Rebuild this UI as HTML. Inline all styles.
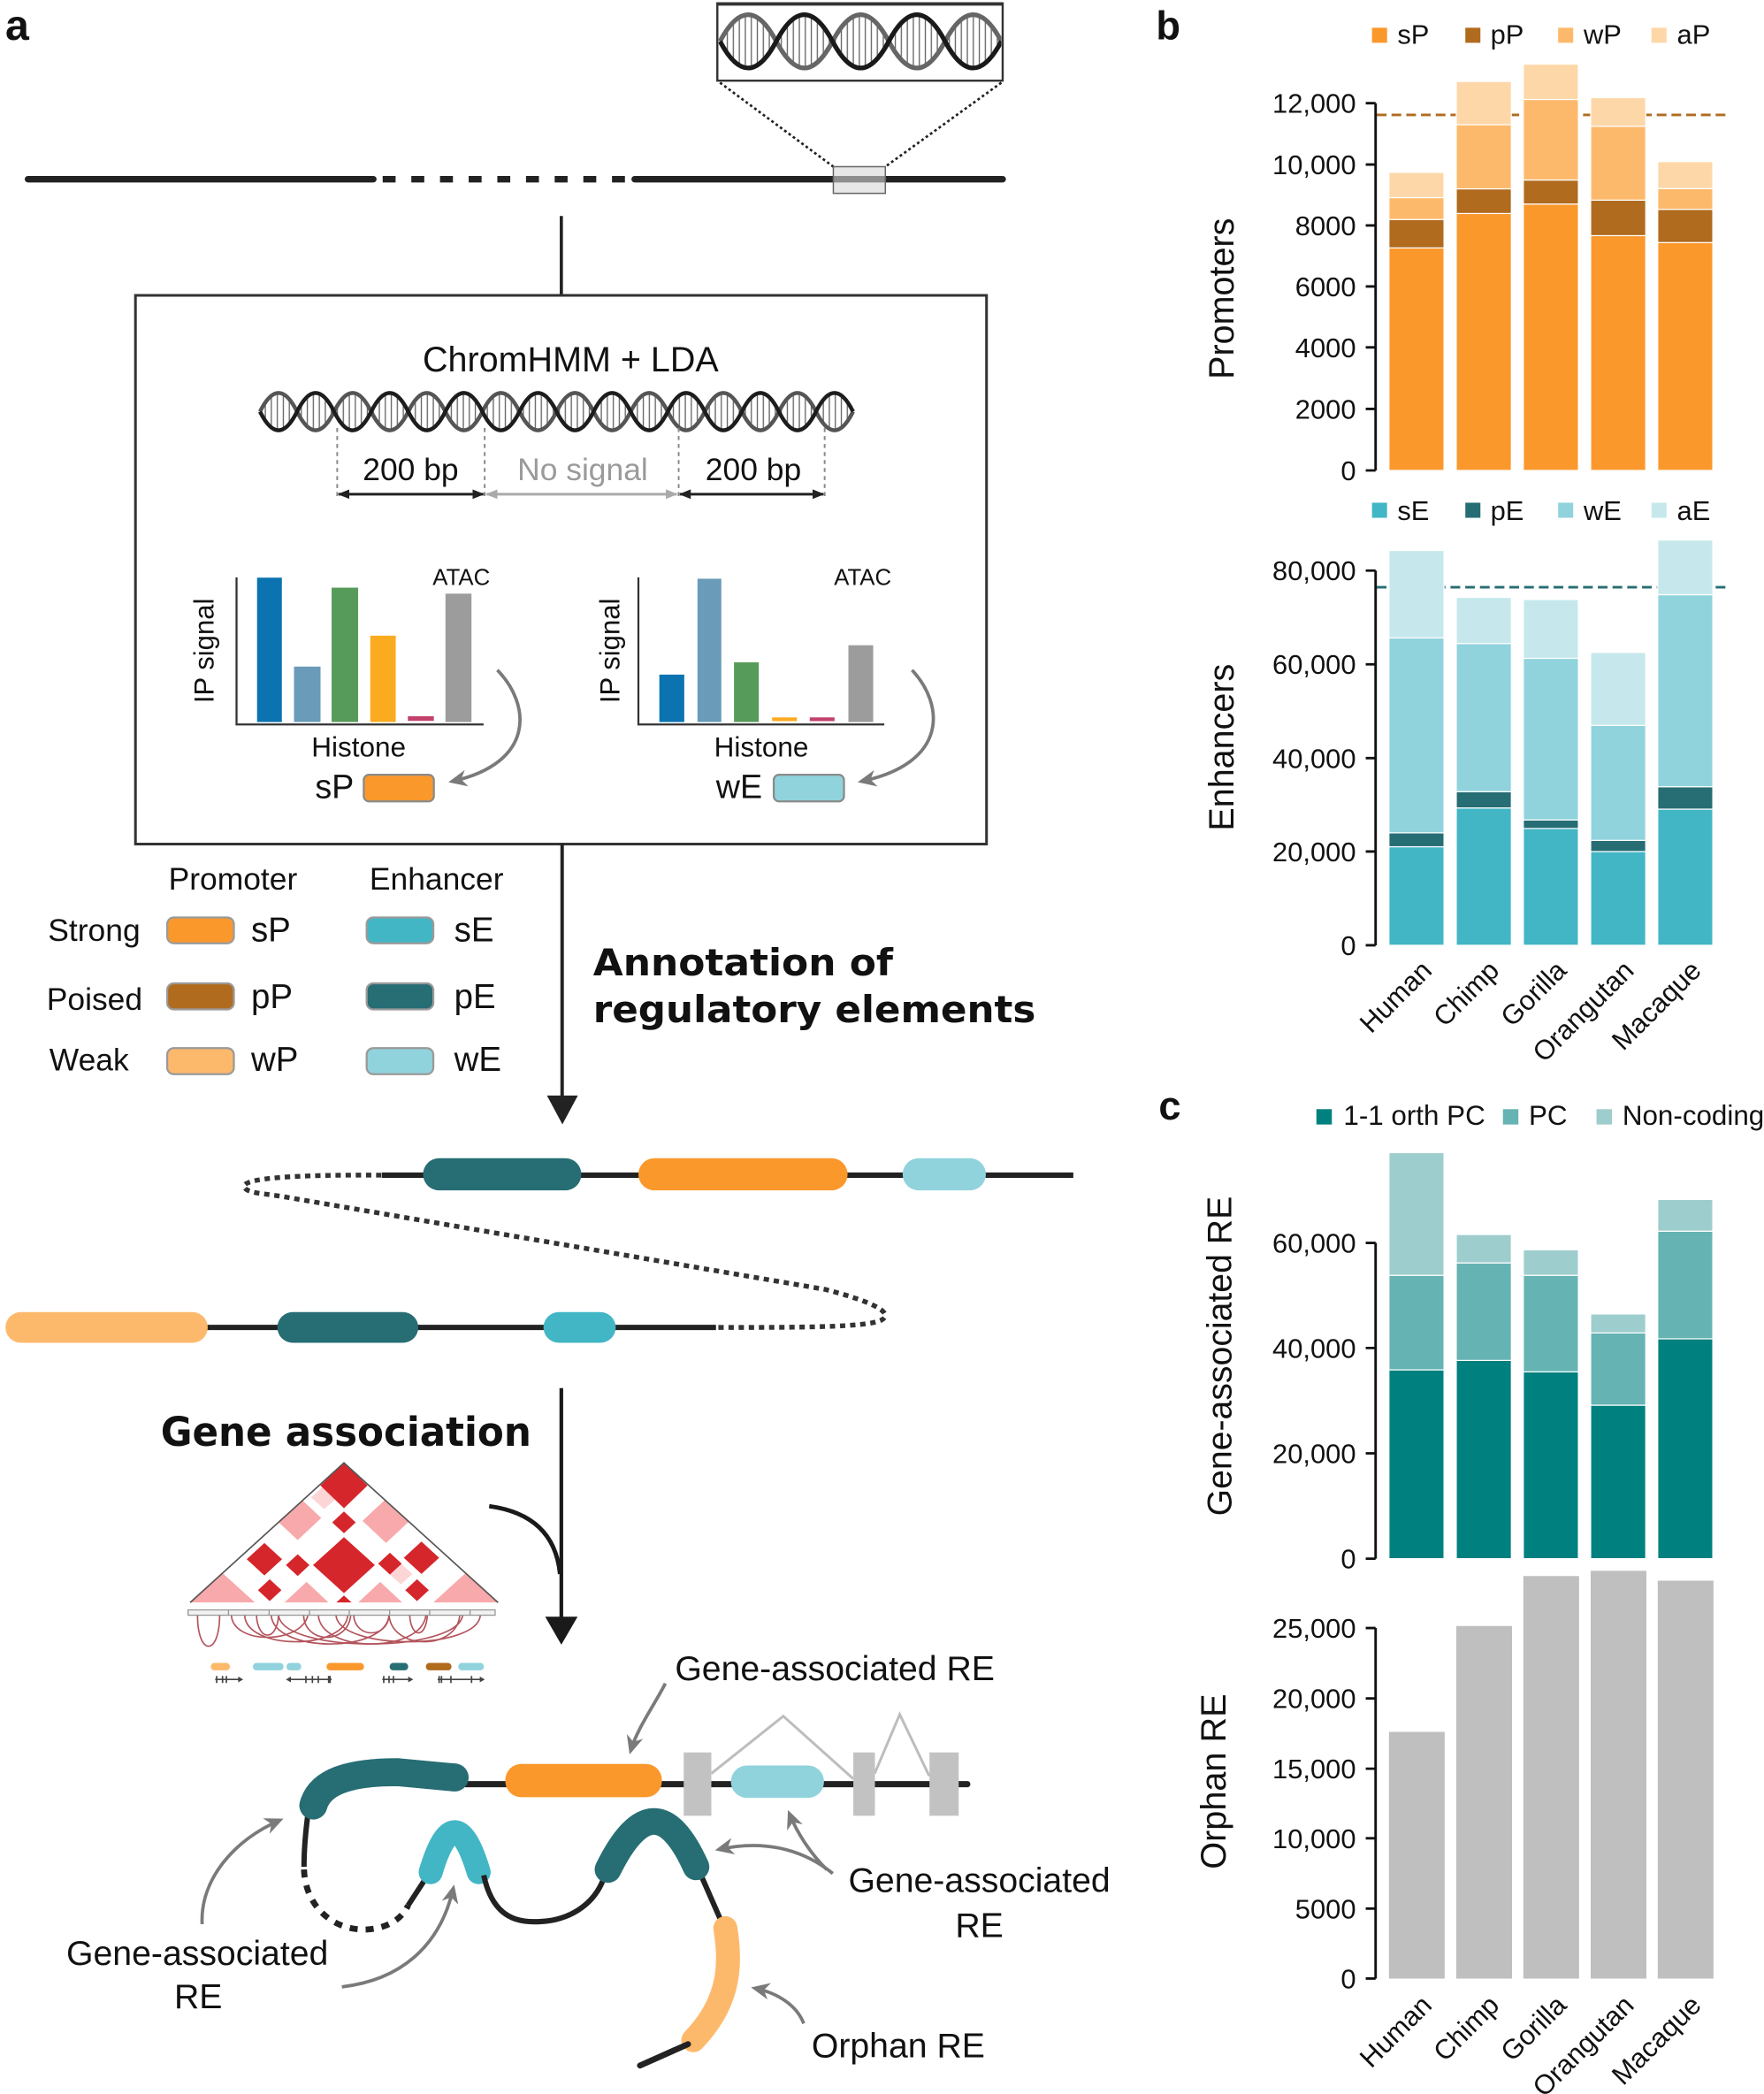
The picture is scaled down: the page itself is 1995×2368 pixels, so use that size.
<!DOCTYPE html>
<html><head><meta charset="utf-8"><style>
html,body{margin:0;padding:0;background:#fff;}
svg{display:block;}
text{font-family:"Liberation Sans",Arial,sans-serif;fill:#111;}
.b{font-family:"DejaVu Sans","Liberation Sans",sans-serif;font-weight:bold;}
</style></head><body>
<svg width="1995" height="2368" viewBox="0 0 1323 1570.36" preserveAspectRatio="none" xmlns="http://www.w3.org/2000/svg">
<defs>
<pattern id="rung" width="4.5" height="10" patternUnits="userSpaceOnUse"><line x1="1" y1="0" x2="1" y2="10" stroke="#666" stroke-width="0.9"/></pattern>
<marker id="mb" viewBox="0 0 10 10" refX="9" refY="5" markerWidth="9" markerHeight="9" markerUnits="userSpaceOnUse" orient="auto-start-reverse"><path d="M0,1L10,5L0,9z" fill="#222"/></marker>
<marker id="mgl" viewBox="0 0 10 10" refX="9" refY="5" markerWidth="9" markerHeight="9" markerUnits="userSpaceOnUse" orient="auto-start-reverse"><path d="M0,1L10,5L0,9z" fill="#aaa"/></marker>
<marker id="mg" viewBox="0 0 10 10" refX="8" refY="5" markerWidth="14" markerHeight="14" markerUnits="userSpaceOnUse" orient="auto"><path d="M0,0.5L10,5L0,9.5L3,5z" fill="#7a7a7a"/></marker>
<clipPath id="topbox"><rect x="539" y="4" width="212" height="56"/></clipPath>
</defs>

<!-- ================= PANEL A ================= -->
<text x="4" y="29.8" font-size="32" font-weight="bold">a</text>

<!-- top DNA box -->
<g clip-path="url(#topbox)">
<path d="M540,31 Q561.1,-9 582.2,31 T624.4,31 T666.6,31 T708.8,31 T751,31 Q729.9,71 708.8,31 T666.6,31 T624.4,31 T582.2,31 T540,31Z" fill="url(#rung)"/>
<path d="M540,31 Q561.1,-9 582.2,31 T624.4,31 T666.6,31 T708.8,31 T751,31" fill="none" stroke="#666" stroke-width="3.5"/>
<path d="M540,31 Q561.1,71 582.2,31 T624.4,31 T666.6,31 T708.8,31 T751,31" fill="none" stroke="#1a1a1a" stroke-width="3.5"/>
</g>
<rect x="538" y="2.5" width="214" height="58" fill="none" stroke="#333" stroke-width="1.6"/>
<line x1="538" y1="3" x2="752" y2="3" stroke="#333" stroke-width="2.5"/>
<line x1="540" y1="62" x2="625" y2="125" stroke="#222" stroke-width="1.8" stroke-dasharray="2 2"/>
<line x1="751" y1="62" x2="664" y2="125" stroke="#222" stroke-width="1.8" stroke-dasharray="2 2"/>
<!-- chromosome -->
<line x1="21" y1="134.4" x2="280" y2="134.4" stroke="#222" stroke-width="4.9" stroke-linecap="round"/>
<line x1="287" y1="134.4" x2="476" y2="134.4" stroke="#222" stroke-width="4.9" stroke-dasharray="9.7 11.8"/>
<line x1="476" y1="134.4" x2="752" y2="134.4" stroke="#222" stroke-width="4.9" stroke-linecap="round"/>
<rect x="625" y="125" width="39" height="20" fill="rgba(215,215,215,0.6)" stroke="#666" stroke-width="1"/>
<line x1="421" y1="162" x2="421" y2="222" stroke="#222" stroke-width="2.4"/>

<!-- ChromHMM box -->
<rect x="101.6" y="221.5" width="638.3" height="411.5" fill="none" stroke="#333" stroke-width="2"/>
<text x="428" y="278.5" font-size="26.2" text-anchor="middle">ChromHMM + LDA</text>
<path d="M195,308.7 Q208.9,280.7 222.8,308.7 T250.6,308.7 T278.4,308.7 T306.2,308.7 T334,308.7 T361.8,308.7 T389.6,308.7 T417.4,308.7 T445.2,308.7 T473,308.7 T500.8,308.7 T528.6,308.7 T556.4,308.7 T584.2,308.7 T612,308.7 T639.8,308.7 Q625.9,280.7 612,308.7 T584.2,308.7 T556.4,308.7 T528.6,308.7 T500.8,308.7 T473,308.7 T445.2,308.7 T417.4,308.7 T389.6,308.7 T361.8,308.7 T334,308.7 T306.2,308.7 T278.4,308.7 T250.6,308.7 T222.8,308.7 T195,308.7Z" fill="url(#rung)"/>
<path d="M195,308.7 Q208.9,280.7 222.8,308.7 T250.6,308.7 T278.4,308.7 T306.2,308.7 T334,308.7 T361.8,308.7 T389.6,308.7 T417.4,308.7 T445.2,308.7 T473,308.7 T500.8,308.7 T528.6,308.7 T556.4,308.7 T584.2,308.7 T612,308.7 T639.8,308.7" fill="none" stroke="#555" stroke-width="3"/>
<path d="M195,308.7 Q208.9,336.7 222.8,308.7 T250.6,308.7 T278.4,308.7 T306.2,308.7 T334,308.7 T361.8,308.7 T389.6,308.7 T417.4,308.7 T445.2,308.7 T473,308.7 T500.8,308.7 T528.6,308.7 T556.4,308.7 T584.2,308.7 T612,308.7 T639.8,308.7" fill="none" stroke="#1d1d1d" stroke-width="3"/>
<g stroke="#888" stroke-width="1.3" stroke-dasharray="3 3">
<line x1="252.9" y1="321" x2="252.9" y2="373"/><line x1="363.5" y1="321" x2="363.5" y2="373"/>
<line x1="509" y1="321" x2="509" y2="373"/><line x1="618.5" y1="321" x2="618.5" y2="373"/>
</g>
<text x="308" y="360" font-size="23.5" text-anchor="middle">200 bp</text>
<text x="437" y="360" font-size="23.5" text-anchor="middle" style="fill:#9a9a9a">No signal</text>
<text x="565" y="360" font-size="23.5" text-anchor="middle">200 bp</text>
<line x1="254" y1="370.6" x2="362.5" y2="370.6" stroke="#222" stroke-width="2" marker-start="url(#mb)" marker-end="url(#mb)"/>
<line x1="365" y1="370.6" x2="507.5" y2="370.6" stroke="#aaa" stroke-width="2" marker-start="url(#mgl)" marker-end="url(#mgl)"/>
<line x1="510" y1="370.6" x2="617.5" y2="370.6" stroke="#222" stroke-width="2" marker-start="url(#mb)" marker-end="url(#mb)"/>

<!-- left mini chart -->
<rect x="192.8" y="433.2" width="18.6" height="108.3" fill="#0b74b0"/>
<rect x="220.5" y="499.9" width="19.9" height="41.6" fill="#6a9bb8"/>
<rect x="248.7" y="440.7" width="19.9" height="100.8" fill="#579b5a"/>
<rect x="277.7" y="476.7" width="19.1" height="64.8" fill="#fbab20"/>
<rect x="305.9" y="537.1" width="19.5" height="3.5" fill="#c2416a"/>
<rect x="334.1" y="445.2" width="19.5" height="96.3" fill="#9c9c9c"/>
<path d="M177.4,433 V543.3 H362.7" fill="none" stroke="#333" stroke-width="1.5"/>
<text x="346" y="438.6" font-size="17.1" text-anchor="middle">ATAC</text>
<text transform="translate(160,488) rotate(-90)" font-size="20.6" text-anchor="middle">IP signal</text>
<text x="269" y="567.5" font-size="20.9" text-anchor="middle">Histone</text>
<text x="236.3" y="598.4" font-size="25">sP</text>
<rect x="272.8" y="581" width="52.6" height="20" rx="4" fill="#fb982c" stroke="#8a8a8a" stroke-width="1.5"/>
<path d="M373,502.5 C398,528 402,572 339,586" fill="none" stroke="#7a7a7a" stroke-width="2.5" marker-end="url(#mg)"/>

<!-- right mini chart -->
<rect x="494.5" y="505.9" width="18.7" height="35.6" fill="#0b74b0"/>
<rect x="523.1" y="434" width="17.9" height="107.5" fill="#6a9bb8"/>
<rect x="550.5" y="496.7" width="18.6" height="44.8" fill="#579b5a"/>
<rect x="579.1" y="538" width="18.6" height="2.8" fill="#fbab20"/>
<rect x="607.3" y="538" width="18.6" height="2.8" fill="#c2416a"/>
<rect x="636.3" y="483.9" width="18.6" height="57.6" fill="#9c9c9c"/>
<path d="M478.8,433 V543.3 H663.2" fill="none" stroke="#333" stroke-width="1.5"/>
<text x="647" y="438.6" font-size="17.1" text-anchor="middle">ATAC</text>
<text transform="translate(464.5,488) rotate(-90)" font-size="20.6" text-anchor="middle">IP signal</text>
<text x="571" y="567.5" font-size="20.9" text-anchor="middle">Histone</text>
<text x="537" y="598.4" font-size="25">wE</text>
<rect x="580.3" y="581" width="52.7" height="20" rx="4" fill="#90d3dc" stroke="#8a8a8a" stroke-width="1.5"/>
<path d="M684,502.5 C708,528 712,572 646,586" fill="none" stroke="#7a7a7a" stroke-width="2.5" marker-end="url(#mg)"/>

<!-- arrow down -->
<line x1="421.6" y1="633" x2="421.6" y2="825" stroke="#222" stroke-width="2.6"/>
<polygon points="410.2,821.6 433.4,821.6 421.8,843.2" fill="#222"/>

<!-- legend -->
<text x="174.7" y="667" font-size="23.5" text-anchor="middle">Promoter</text>
<text x="327.4" y="667" font-size="23.5" text-anchor="middle">Enhancer</text>
<text x="36" y="705.5" font-size="23.5">Strong</text>
<text x="35" y="757.5" font-size="23.5">Poised</text>
<text x="37" y="802.6" font-size="23.5">Weak</text>
<g stroke="#9a9a9a" stroke-width="1.5">
<rect x="125.4" y="688" width="50" height="19.4" rx="5" fill="#fb982c"/>
<rect x="125.4" y="737.4" width="50" height="19.6" rx="5" fill="#b06b1f"/>
<rect x="125.4" y="786" width="50" height="19.6" rx="5" fill="#fdb96b"/>
<rect x="275" y="688" width="50" height="19.4" rx="5" fill="#42b6c5"/>
<rect x="275" y="737.4" width="50" height="19.6" rx="5" fill="#276d74"/>
<rect x="275" y="786" width="50" height="19.6" rx="5" fill="#90d3dc"/>
</g>
<text x="188.3" y="706" font-size="25.5">sP</text>
<text x="188.3" y="756" font-size="25.5">pP</text>
<text x="188.3" y="803" font-size="25.5">wP</text>
<text x="340.6" y="706" font-size="25.5">sE</text>
<text x="340.6" y="756" font-size="25.5">pE</text>
<text x="340.6" y="803" font-size="25.5">wE</text>

<text class="b" x="444.8" y="731.5" font-size="28" textLength="225" lengthAdjust="spacingAndGlyphs">Annotation of</text>
<text class="b" x="444.8" y="766.5" font-size="28" textLength="332" lengthAdjust="spacingAndGlyphs">regulatory elements</text>

<!-- chromatin rows -->
<path d="M286,881.3 C240,881 182,882 183,890 C185,895 198,895 210,897 L619,967 C650,975 672,984 661,990 C650,995.5 600,995.5 536.6,995.5" fill="none" stroke="#333" stroke-width="3.6" stroke-dasharray="4 3.6"/>
<line x1="286.4" y1="881.3" x2="805" y2="881.3" stroke="#222" stroke-width="4"/>
<rect x="317.3" y="868.6" width="118.7" height="24.1" rx="12" fill="#276d74"/>
<rect x="478.8" y="868.6" width="156.9" height="24.1" rx="12" fill="#fb982c"/>
<rect x="677" y="868.6" width="62.4" height="24.1" rx="12" fill="#90d3dc"/>
<line x1="154.8" y1="995.5" x2="537" y2="995.5" stroke="#222" stroke-width="4"/>
<rect x="4.1" y="984" width="151.7" height="23" rx="11.5" fill="#fdb96b"/>
<rect x="208" y="984" width="105.7" height="23" rx="11.5" fill="#276d74"/>
<rect x="407.6" y="984" width="54.2" height="23" rx="11.5" fill="#42b6c5"/>

<!-- gene association -->
<text class="b" x="120.5" y="1084.2" font-size="30" textLength="278" lengthAdjust="spacingAndGlyphs">Gene association</text>
<g transform="translate(119.4,1034.5) scale(0.221)">
<clipPath id="tri"><polygon points="627,283 1150,757 105,757"/></clipPath>
<g clip-path="url(#tri)">
<polygon points="105,283 1150,283 1150,757 105,757" fill="#fff"/>
<g fill="#f8a9ab">
<polygon points="470,395 550,470 470,545 390,470"/>
<polygon points="770,405 850,480 770,555 690,480"/>
<polygon points="215,657 325,757 215,857 105,757"/>
<polygon points="1040,657 1150,757 1040,857 930,757"/>
<polygon points="500,687 575,757 500,827 425,757"/>
<polygon points="750,687 825,757 750,827 675,757"/>
</g>
<g fill="#fcd5d6">
<polygon points="560,360 605,400 560,440 515,400"/>
<polygon points="820,625 860,660 820,695 780,660"/>
</g>
<g fill="#d5262c">
<polygon points="627,283 707,360 627,437 547,360"/>
<polygon points="627,448 667,485 627,522 587,485"/>
<polygon points="627,535 732,630 627,725 522,630"/>
<polygon points="470,593 510,630 470,667 430,630"/>
<polygon points="783,588 823,625 783,662 743,625"/>
<polygon points="357,555 417,610 357,665 297,610"/>
<polygon points="890,550 950,605 890,660 830,605"/>
<polygon points="375,678 415,715 375,752 335,715"/>
<polygon points="875,678 915,715 875,752 835,715"/>
<polygon points="627,733 662,765 627,797 592,765"/>
</g>
</g>
<polyline points="105,757 627,283 1150,757" fill="none" stroke="#555" stroke-width="5"/>
<g fill="none" stroke="#b3545c" stroke-width="5">
<path d="M130,800 C130,940 205,940 205,800"/>
<path d="M245,800 C250,900 480,900 505,800"/>
<path d="M290,800 C295,920 630,920 640,800"/>
<path d="M330,800 C335,890 400,890 405,800"/>
<path d="M380,800 C390,930 770,930 780,800"/>
<path d="M405,800 C420,930 1010,930 1030,800"/>
<path d="M490,800 C495,900 640,900 650,800"/>
<path d="M540,800 C550,930 890,930 905,800"/>
<path d="M600,800 C610,920 1080,920 1090,800"/>
<path d="M660,800 C665,880 775,880 780,800"/>
<path d="M780,800 C790,920 1010,920 1020,800"/>
<path d="M850,800 C855,880 905,880 910,800"/>
</g>
<rect x="98" y="782" width="1042" height="18" fill="#f2f2f2" stroke="#999" stroke-width="4"/>
<g stroke="#999" stroke-width="4"><path d="M235,782V800M373,782V800M510,782V800M645,782V800M782,782V800M918,782V800M1055,782V800"/></g>
<rect x="175" y="962" width="65" height="25" rx="12" fill="#fdb96b"/>
<rect x="318" y="962" width="104" height="25" rx="12" fill="#90d3dc"/>
<rect x="432" y="962" width="50" height="25" rx="12" fill="#90d3dc"/>
<rect x="568" y="962" width="127" height="25" rx="12" fill="#fb982c"/>
<rect x="782" y="962" width="63" height="25" rx="12" fill="#276d74"/>
<rect x="905" y="962" width="87" height="25" rx="12" fill="#b06b1f"/>
<rect x="1015" y="962" width="87" height="25" rx="12" fill="#90d3dc"/>
<g stroke="#444" stroke-width="5" fill="none">
<path d="M190,1018H280M195,1006V1030M215,1006V1030M228,1006V1030"/>
<path d="M435,1018H585M540,1006V1030M520,1006V1030M498,1006V1030M575,1006V1030M580,1006V1030"/>
<path d="M757,1018H855M762,1006V1030M780,1006V1030M795,1006V1030"/>
<path d="M945,1018H1100M950,1006V1030M958,1006V1030M990,1006V1030M1060,1006V1030"/>
</g>
<g fill="#444">
<polygon points="285,1018 268,1008 268,1028"/>
<polygon points="430,1018 447,1008 447,1028"/>
<polygon points="862,1018 845,1008 845,1028"/>
<polygon points="1105,1018 1088,1008 1088,1028"/>
</g>
</g>
<path d="M366.9,1129.5 Q415.7,1136.2 420,1180.4" fill="none" stroke="#1a1a1a" stroke-width="3.2"/>
<line x1="421" y1="1041" x2="421" y2="1215" stroke="#1a1a1a" stroke-width="2.8"/>
<polygon points="408.9,1212.4 433.2,1212.4 421,1233.4" fill="#1a1a1a"/>

<!-- bottom gene diagram -->
<text x="506.2" y="1260" font-size="26">Gene-associated RE</text>
<path d="M499,1262.5 C490,1280 478,1296 473,1313" fill="none" stroke="#7a7a7a" stroke-width="2.5" marker-end="url(#mg)"/>
<path d="M533.5,1330 L587.5,1287 L640,1334 M656,1330 L674.8,1285.7 L697,1332" fill="none" stroke="#bdbdbd" stroke-width="2"/>
<line x1="349" y1="1338" x2="725.5" y2="1338" stroke="#222" stroke-width="4.6" stroke-linecap="round"/>
<rect x="512.8" y="1314.2" width="20.7" height="47.5" fill="#c2c2c2"/>
<rect x="640" y="1314.2" width="16.2" height="47.5" fill="#c2c2c2"/>
<rect x="697.1" y="1314.2" width="21.9" height="47.5" fill="#c2c2c2"/>
<rect x="379" y="1322.8" width="117.4" height="25" rx="12" fill="#fb982c"/>
<rect x="548.2" y="1324" width="69.8" height="24.3" rx="12" fill="#90d3dc"/>
<path d="M231,1360 C229,1375 228,1390 228,1400" fill="none" stroke="#222" stroke-width="4"/>
<path d="M228,1402 C229,1430 250,1448 275,1447 C292,1446 302,1438 306,1429" fill="none" stroke="#222" stroke-width="4.5" stroke-dasharray="6 6"/>
<path d="M306,1429 L323,1403" fill="none" stroke="#222" stroke-width="4"/>
<path d="M235,1354 C240,1336 262,1329 298,1329 L341,1333" fill="none" stroke="#276d74" stroke-width="21" stroke-linecap="round"/>
<path d="M323,1404 Q341,1344 359,1404" fill="none" stroke="#42b6c5" stroke-width="18" stroke-linecap="round"/>
<path d="M362.8,1406.3 C370,1440 390,1442 406,1441 C425,1440 445,1430 452.8,1408.6" fill="none" stroke="#222" stroke-width="4"/>
<path d="M523.7,1401.6 L541,1441" fill="none" stroke="#222" stroke-width="4"/>
<path d="M456,1402 Q491,1331 522,1400" fill="none" stroke="#276d74" stroke-width="20" stroke-linecap="round"/>
<path d="M544,1446 C548,1470 549,1500 520,1530" fill="none" stroke="#fdb96b" stroke-width="18" stroke-linecap="round"/>
<path d="M516,1533 L480,1549" fill="none" stroke="#222" stroke-width="4.5" stroke-linecap="round"/>
<g fill="none" stroke="#7a7a7a" stroke-width="2.5">
<path d="M151.6,1443 C150,1410 175,1380 210,1365" marker-end="url(#mg)"/>
<path d="M256.4,1490 C300,1485 330,1460 340,1416" marker-end="url(#mg)"/>
<path d="M624.6,1405 C600,1385 570,1380 539,1387" marker-end="url(#mg)"/>
<path d="M620,1402 C608,1390 598,1375 592,1360" marker-end="url(#mg)"/>
<path d="M602.8,1517.5 C598,1505 585,1495 566,1491" marker-end="url(#mg)"/>
</g>
<text x="148" y="1473.5" font-size="26" text-anchor="middle">Gene-associated</text>
<text x="148.7" y="1506" font-size="26" text-anchor="middle">RE</text>
<text x="734.5" y="1419" font-size="26" text-anchor="middle">Gene-associated</text>
<text x="734.5" y="1452.6" font-size="26" text-anchor="middle">RE</text>
<text x="673.7" y="1543" font-size="26" text-anchor="middle">Orphan RE</text>

<!-- ================= PANEL B ================= -->
<text x="867" y="29.6" font-size="30" font-weight="bold">b</text>
<!-- promoter legend -->
<rect x="1029" y="20.8" width="11.3" height="11.3" fill="#fb982c"/><text x="1048" y="33" font-size="20.5">sP</text>
<rect x="1099" y="20.8" width="11.3" height="11.3" fill="#b06b1f"/><text x="1117.8" y="33" font-size="20.5">pP</text>
<rect x="1168.6" y="20.8" width="11.3" height="11.3" fill="#fdb96b"/><text x="1187.7" y="33" font-size="20.5">wP</text>
<rect x="1238.6" y="20.8" width="11.3" height="11.3" fill="#fed7a9"/><text x="1257.7" y="33" font-size="20.5">aP</text>
<!-- promoters dashed -->
<line x1="1032.6" y1="86.2" x2="1295" y2="86.2" stroke="#b06b1f" stroke-width="1.9" stroke-dasharray="7.3 3.75"/>
<g stroke="#fff" stroke-width="0.8">
<rect x="1041.7" y="185.9" width="41.3" height="166.9" fill="#fb982c"/>
<rect x="1041.7" y="164.6" width="41.3" height="21.3" fill="#b06b1f"/>
<rect x="1041.7" y="148.2" width="41.3" height="16.4" fill="#fdb96b"/>
<rect x="1041.7" y="129.3" width="41.3" height="18.9" fill="#fed7a9"/>
<rect x="1092.2" y="160.1" width="41.3" height="192.7" fill="#fb982c"/>
<rect x="1092.2" y="141.6" width="41.3" height="18.5" fill="#b06b1f"/>
<rect x="1092.2" y="93.5" width="41.3" height="48.1" fill="#fdb96b"/>
<rect x="1092.2" y="61.1" width="41.3" height="32.4" fill="#fed7a9"/>
<rect x="1142.5" y="153" width="41.3" height="199.8" fill="#fb982c"/>
<rect x="1142.5" y="135" width="41.3" height="18" fill="#b06b1f"/>
<rect x="1142.5" y="74.6" width="41.3" height="60.4" fill="#fdb96b"/>
<rect x="1142.5" y="48.1" width="41.3" height="26.5" fill="#fed7a9"/>
<rect x="1193" y="176.7" width="41.3" height="176.1" fill="#fb982c"/>
<rect x="1193" y="150.1" width="41.3" height="26.6" fill="#b06b1f"/>
<rect x="1193" y="94.7" width="41.3" height="55.4" fill="#fdb96b"/>
<rect x="1193" y="73.2" width="41.3" height="21.5" fill="#fed7a9"/>
<rect x="1243.3" y="181.9" width="41.3" height="170.9" fill="#fb982c"/>
<rect x="1243.3" y="157" width="41.3" height="24.9" fill="#b06b1f"/>
<rect x="1243.3" y="141.4" width="41.3" height="15.6" fill="#fdb96b"/>
<rect x="1243.3" y="121.2" width="41.3" height="20.2" fill="#fed7a9"/>
</g>
<path d="M1031.7,77.4 V352.8 M1024.3,77.4H1031.7 M1024.3,123.4H1031.7 M1024.3,169.1H1031.7 M1024.3,214.8H1031.7 M1024.3,260.5H1031.7 M1024.3,306.7H1031.7 M1024.3,352.8H1031.7" fill="none" stroke="#111" stroke-width="1.9"/>
<g font-size="20.5" text-anchor="end">
<text x="1017" y="84.7">12,000</text><text x="1017" y="130.7">10,000</text><text x="1017" y="176.4">8000</text>
<text x="1017" y="222.1">6000</text><text x="1017" y="267.8">4000</text><text x="1017" y="314">2000</text><text x="1017" y="360.1">0</text>
</g>
<text transform="translate(925,224) rotate(-90)" font-size="26.2" text-anchor="middle">Promoters</text>

<!-- enhancer legend -->
<rect x="1029" y="377" width="11.3" height="11.3" fill="#42b6c5"/><text x="1048" y="390" font-size="20.5">sE</text>
<rect x="1099" y="377" width="11.3" height="11.3" fill="#276d74"/><text x="1117.8" y="390" font-size="20.5">pE</text>
<rect x="1168.6" y="377" width="11.3" height="11.3" fill="#90d3dc"/><text x="1187.7" y="390" font-size="20.5">wE</text>
<rect x="1238.6" y="377" width="11.3" height="11.3" fill="#c6e8ec"/><text x="1257.7" y="390" font-size="20.5">aE</text>
<line x1="1032.6" y1="440.4" x2="1295" y2="440.4" stroke="#276d74" stroke-width="1.9" stroke-dasharray="7.3 3.75"/>
<g stroke="#fff" stroke-width="0.8">
<rect x="1041.7" y="635" width="41.3" height="73.9" fill="#42b6c5"/>
<rect x="1041.7" y="624.6" width="41.3" height="10.4" fill="#276d74"/>
<rect x="1041.7" y="478.4" width="41.3" height="146.2" fill="#90d3dc"/>
<rect x="1041.7" y="412.8" width="41.3" height="65.6" fill="#c6e8ec"/>
<rect x="1092.2" y="605.9" width="41.3" height="103" fill="#42b6c5"/>
<rect x="1092.2" y="593.7" width="41.3" height="12.2" fill="#276d74"/>
<rect x="1092.2" y="482.6" width="41.3" height="111.1" fill="#90d3dc"/>
<rect x="1092.2" y="448" width="41.3" height="34.6" fill="#c6e8ec"/>
<rect x="1142.5" y="621.3" width="41.3" height="87.6" fill="#42b6c5"/>
<rect x="1142.5" y="614.9" width="41.3" height="6.4" fill="#276d74"/>
<rect x="1142.5" y="493.7" width="41.3" height="121.2" fill="#90d3dc"/>
<rect x="1142.5" y="449.6" width="41.3" height="44.1" fill="#c6e8ec"/>
<rect x="1193" y="638.6" width="41.3" height="70.3" fill="#42b6c5"/>
<rect x="1193" y="630.2" width="41.3" height="8.4" fill="#276d74"/>
<rect x="1193" y="544" width="41.3" height="86.2" fill="#90d3dc"/>
<rect x="1193" y="489.3" width="41.3" height="54.7" fill="#c6e8ec"/>
<rect x="1243.3" y="606.8" width="41.3" height="102.1" fill="#42b6c5"/>
<rect x="1243.3" y="590" width="41.3" height="16.8" fill="#276d74"/>
<rect x="1243.3" y="446" width="41.3" height="144" fill="#90d3dc"/>
<rect x="1243.3" y="405" width="41.3" height="41" fill="#c6e8ec"/>
</g>
<path d="M1031.7,427.9 V708.9 M1024.3,427.9H1031.7 M1024.3,498.2H1031.7 M1024.3,568.5H1031.7 M1024.3,638.6H1031.7 M1024.3,708.9H1031.7" fill="none" stroke="#111" stroke-width="1.9"/>
<g font-size="20.5" text-anchor="end">
<text x="1017" y="435.2">80,000</text><text x="1017" y="505.5">60,000</text><text x="1017" y="575.8">40,000</text>
<text x="1017" y="645.9">20,000</text><text x="1017" y="716.2">0</text>
</g>
<text transform="translate(925,560.5) rotate(-90)" font-size="26.2" text-anchor="middle">Enhancers</text>
<g font-size="20.5" text-anchor="end">
<text transform="translate(1075,729) rotate(-45)">Human</text>
<text transform="translate(1125.5,729) rotate(-45)">Chimp</text>
<text transform="translate(1176,729) rotate(-45)">Gorilla</text>
<text transform="translate(1226.5,729) rotate(-45)">Orangutan</text>
<text transform="translate(1277,729) rotate(-45)">Macaque</text>
</g>

<!-- ================= PANEL C ================= -->
<text x="869" y="839.7" font-size="30" font-weight="bold">c</text>
<rect x="987.3" y="831.8" width="11.6" height="11.5" fill="#00807e"/><text x="1007.6" y="843.4" font-size="20.8">1-1 orth PC</text>
<rect x="1127.2" y="831.8" width="11.6" height="11.5" fill="#66b3b3"/><text x="1146.6" y="843.4" font-size="20.8">PC</text>
<rect x="1197.4" y="831.8" width="11.6" height="11.5" fill="#9ecdcd"/><text x="1216.8" y="843.4" font-size="20.8">Non-coding</text>
<g stroke="#fff" stroke-width="0.8">
<rect x="1041.7" y="1027.3" width="41.3" height="141.6" fill="#00807e"/>
<rect x="1041.7" y="956.4" width="41.3" height="70.9" fill="#66b3b3"/>
<rect x="1041.7" y="864.4" width="41.3" height="92" fill="#9ecdcd"/>
<rect x="1092.2" y="1020.2" width="41.3" height="148.7" fill="#00807e"/>
<rect x="1092.2" y="947.1" width="41.3" height="73.1" fill="#66b3b3"/>
<rect x="1092.2" y="925.8" width="41.3" height="21.3" fill="#9ecdcd"/>
<rect x="1142.5" y="1028.8" width="41.3" height="140.1" fill="#00807e"/>
<rect x="1142.5" y="956.4" width="41.3" height="72.4" fill="#66b3b3"/>
<rect x="1142.5" y="937.3" width="41.3" height="19.1" fill="#9ecdcd"/>
<rect x="1193" y="1053.8" width="41.3" height="115.1" fill="#00807e"/>
<rect x="1193" y="999.6" width="41.3" height="54.2" fill="#66b3b3"/>
<rect x="1193" y="985.4" width="41.3" height="14.2" fill="#9ecdcd"/>
<rect x="1243.3" y="1004" width="41.3" height="164.9" fill="#00807e"/>
<rect x="1243.3" y="923.3" width="41.3" height="80.7" fill="#66b3b3"/>
<rect x="1243.3" y="899.5" width="41.3" height="23.8" fill="#9ecdcd"/>
</g>
<path d="M1031.7,932.1 V1168.9 M1024.3,932.1H1031.7 M1024.3,1010.9H1031.7 M1024.3,1089.9H1031.7 M1024.3,1168.9H1031.7" fill="none" stroke="#111" stroke-width="1.9"/>
<g font-size="20.5" text-anchor="end">
<text x="1017" y="939.4">60,000</text><text x="1017" y="1018.2">40,000</text><text x="1017" y="1097.2">20,000</text><text x="1017" y="1176.2">0</text>
</g>
<text transform="translate(923.5,1017) rotate(-90)" font-size="26" text-anchor="middle">Gene-associated RE</text>

<!-- orphan -->
<g fill="#bfbfbf">
<rect x="1041.7" y="1298.8" width="41.8" height="185"/>
<rect x="1092.2" y="1219.4" width="41.8" height="264.4"/>
<rect x="1142.5" y="1181.9" width="41.8" height="301.9"/>
<rect x="1193" y="1178" width="41.8" height="305.8"/>
<rect x="1243.3" y="1185.4" width="41.8" height="298.4"/>
</g>
<path d="M1031.7,1220.9 V1483.8 M1024.3,1220.9H1031.7 M1024.3,1273.7H1031.7 M1024.3,1326.4H1031.7 M1024.3,1378.6H1031.7 M1024.3,1431.3H1031.7 M1024.3,1483.8H1031.7" fill="none" stroke="#111" stroke-width="1.9"/>
<g font-size="20.5" text-anchor="end">
<text x="1017" y="1228.2">25,000</text><text x="1017" y="1281">20,000</text><text x="1017" y="1333.7">15,000</text>
<text x="1017" y="1385.9">10,000</text><text x="1017" y="1438.6">5000</text><text x="1017" y="1491.1">0</text>
</g>
<text transform="translate(919,1336) rotate(-90)" font-size="26.3" text-anchor="middle">Orphan RE</text>
<g font-size="20.5" text-anchor="end">
<text transform="translate(1075,1505) rotate(-45)">Human</text>
<text transform="translate(1125.5,1505) rotate(-45)">Chimp</text>
<text transform="translate(1176,1505) rotate(-45)">Gorilla</text>
<text transform="translate(1226.5,1505) rotate(-45)">Orangutan</text>
<text transform="translate(1277,1505) rotate(-45)">Macaque</text>
</g>
</svg>
</body></html>
